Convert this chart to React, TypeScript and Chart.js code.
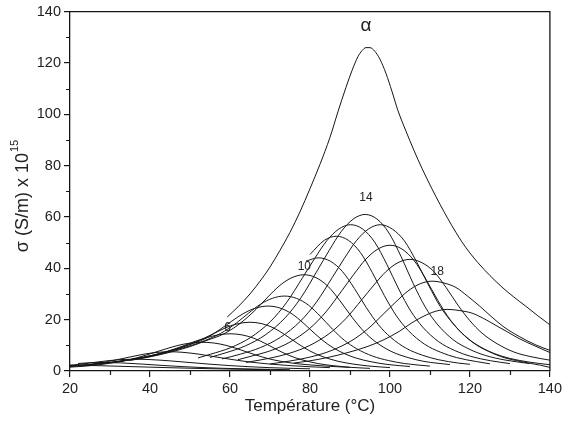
import React, { useEffect, useRef } from 'react';
import { Chart, registerables } from 'chart.js';

Chart.register(...registerables);

// ---- Data (Temperature °C, sigma x 1e15 S/m) ----
const curve1 = [[20,2.3],[25,2.15],[30,1.95],[35,1.72],[40,1.5],[45,1.28],[50,1.08],[55,0.9],[60,0.75],[65,0.62],[70,0.5]];
const curve2 = [[22,2.94],[25,3.2],[28,3.3],[33,3.14],[38,2.7],[43,2.18],[48,1.72],[53,1.35],[58,1.06],[63,0.86],[68,0.69],[75,0.5]];
const curve3 = [[20,2.16],[24,2.94],[27,3.54],[30,4.09],[33,4.46],[36,4.6],[40,4.45],[45,3.95],[50,3.3],[55,2.65],[60,2.1],[65,1.65],[70,1.3],[75,1.05],[80,0.85]];
const curve4 = [[20,1.73],[25,2.55],[29,3.53],[33,4.8],[36,5.78],[39,6.68],[42,7.28],[45,7.5],[48,7.3],[52,6.6],[56,5.6],[60,4.6],[65,3.5],[70,2.7],[75,2.1],[80,1.65],[85,1.3]];
const curve5 = [[20,1.51],[23,1.79],[28,2.58],[33,3.81],[37,5.26],[41,7.17],[44,8.62],[47,9.97],[50,10.86],[53,11.2],[56,10.9],[59,10.0],[62,8.6],[65,7.0],[68,5.5],[71,4.3],[75,3.2],[79,2.5],[84,1.9],[90,1.4]];
const curve6 = [[20,1.9],[25,2.5],[30,3.3],[35,4.4],[40,5.8],[44,7.5],[48,9.6],[51,11.4],[54,12.9],[57,14.07],[60,14.5],[63,14.07],[66,12.76],[69,10.59],[72,8.12],[75,5.95],[78,4.35],[82,2.9],[86,2.03],[90,1.45],[95,1.02]];
const curve7 = [[20,1.9],[25,2.5],[30,3.3],[35,4.4],[40,5.9],[45,7.8],[49,9.8],[53,12.4],[56,14.6],[59,16.9],[62,18.43],[65,19],[68,18.43],[71,16.72],[74,13.87],[77,10.64],[80,7.79],[83,5.7],[87,3.8],[91,2.66],[95,1.9],[100,1.33]];
const curve8 = [[25,2.45],[30,3.3],[35,4.4],[40,5.9],[45,7.9],[50,10.3],[53.5,12.4],[57.5,16.19],[60.5,19.48],[63.5,22.52],[66.5,24.54],[69.5,25.3],[72.5,24.54],[75.5,22.26],[78.5,18.47],[81.5,14.17],[84.5,10.37],[87.5,7.59],[91.5,5.06],[95.5,3.54],[99.5,2.53],[105,1.75]];
const curve9 = [[30,3.2],[35,4.3],[40,5.7],[45,7.6],[50,9.8],[53.6,11.8],[57.6,14.6],[61.6,18.69],[64.6,22.48],[67.6,25.99],[70.6,28.32],[73.6,29.2],[76.6,28.32],[79.6,25.7],[82.6,21.32],[85.6,16.35],[88.6,11.97],[91.6,8.76],[95.6,5.84],[99.6,4.09],[103.6,2.92],[110,1.9]];
const curve10 = [[35,4.1],[40,5.5],[45,7.3],[50,9.5],[54,11.8],[58.5,14.5],[62.5,18.5],[66.5,24.0],[69.5,28.88],[72.5,33.38],[75.5,36.38],[78.5,37.5],[81.5,36.38],[84.5,33.0],[87.5,27.38],[90.5,21.0],[93.5,15.38],[96.5,11.25],[100.5,7.5],[104.5,5.25],[108.5,3.75],[115,2.5]];
const curve11 = [[79,42.8],[82.1,44.1],[85.1,42.78],[88.1,38.81],[91.1,32.19],[94.1,24.7],[97.1,18.08],[100.1,13.23],[104.1,8.82],[108.1,6.17],[112.1,4.41],[117.1,3.09],[120,2.6]];
const curve12 = [[80,45.4],[83.6,50.93],[86.6,52.5],[89.6,50.93],[92.6,46.2],[95.6,38.33],[98.6,29.4],[101.6,21.53],[104.6,15.75],[108.6,10.5],[112.6,7.35],[116.6,5.25],[121.6,3.68],[125,2.8]];
const curve13 = [[52,5.1],[55.2,6.56],[60.2,9.12],[65.2,13.11],[70.2,19.38],[74.2,26.79],[78.2,36.48],[81.2,43.89],[84.2,50.73],[87.2,55.29],[90.2,57],[93.2,55.29],[96.2,50.16],[99.2,41.61],[102.2,31.92],[105.2,23.37],[108.2,17.1],[112.2,11.4],[116.2,7.98],[120.2,5.7],[125.2,3.99],[130,2.9]];
const curve14 = [[55,5.3],[58.8,7.02],[63.8,9.76],[68.8,14.03],[73.8,20.74],[77.8,28.67],[81.8,39.04],[84.8,46.97],[87.8,54.29],[90.8,59.17],[93.8,61],[96.8,59.17],[99.8,53.68],[102.8,44.53],[105.8,34.16],[108.8,25.01],[111.8,18.3],[115.8,12.2],[119.8,8.54],[123.8,6.1],[128.8,4.27],[135,2.9]];
const curve15 = [[58,4.7],[62.6,6.56],[67.6,9.12],[72.6,13.11],[77.6,19.38],[81.6,26.79],[85.6,36.48],[88.6,43.89],[91.6,50.73],[94.6,55.29],[97.6,57],[100.6,55.29],[103.6,50.73],[106.6,42.75],[109.6,33.63],[112.6,25.08],[115.6,18.81],[119.6,12.54],[123.6,8.55],[127.6,5.7],[132.6,3.7],[137.6,2.28],[140,1.4]];
const curve16 = [[62,4.4],[65,5.64],[70,7.84],[75,11.27],[80,16.66],[84,23.03],[88,31.36],[91,37.73],[94,43.61],[97,47.53],[100,49],[103,47.53],[106,43.12],[109,35.77],[112,27.44],[115,20.09],[118,14.7],[122,9.8],[126,6.86],[130,4.9],[135,3.43],[140,2.45]];
const curve17 = [[64,3.35],[70,5.0],[75,6.96],[80,10.0],[85,14.79],[89,20.45],[93,27.84],[96,33.5],[99,38.72],[102,42.2],[105,43.5],[108,42.2],[111,38.72],[114,32.63],[117,25.67],[120,19.58],[123,14.79],[127,10.44],[131,7.4],[135,5.66],[140,4.22]];
const curve18 = [[70,2.73],[75.5,4.03],[80.5,5.6],[85.5,8.05],[90.5,11.9],[94.5,16.45],[98.5,22.4],[101.5,26.95],[104.5,31.15],[107.5,33.95],[110.5,35],[113.5,34.3],[116.5,32.55],[119.5,29.05],[122.5,25.2],[125.5,21.0],[128.5,17.15],[132.5,13.3],[136.5,10.15],[140,8.05]];
const curve19 = [[76,3.1],[79.5,3.84],[84.5,5.28],[89.5,7.2],[94.5,9.6],[98.5,12.2],[102.5,15.6],[105.5,18.8],[108.5,21.4],[111.5,23.3],[114.5,24],[117.5,23.52],[120.5,22.56],[123.5,20.4],[126.5,17.76],[129.5,15.12],[132.5,12.48],[136.5,9.6],[140,7.2]];
const curveAlpha = [[59.3,21],[62,25],[65,30],[68,36],[70,40.5],[72.5,47],[75,54],[77.5,62],[80,71],[82.5,80.5],[85,91],[87,101],[89,110.5],[90.5,117],[92,122.5],[93,124.8],[94,126],[95,126],[96.2,124.6],[97.5,121.5],[99,116],[100.5,109],[102,101.5],[104,93.5],[106,86],[108,79],[110.5,71],[112.5,65],[114.5,59.3],[116.5,54],[118,50.3],[120,46],[122,42.2],[125,37.2],[128,32.7],[131,28.8],[134,25.2],[137,21.5],[140,18]];

const curves = [curve1, curve2, curve3, curve4, curve5, curve6, curve7, curve8, curve9, curve10,
  curve11, curve12, curve13, curve14, curve15, curve16, curve17, curve18, curve19, curveAlpha];

const xRange = [20, 140];
const yRange = [0, 140];
const majorStep = 20;
const minorStep = 10;

const curveLabels = [
  { text: 'α', x: 94, y: 134.5, big: true },
  { text: '14', x: 94, y: 67.5, big: false },
  { text: '10', x: 78.6, y: 40.8, big: false },
  { text: '6', x: 59.4, y: 17.0, big: false },
  { text: '18', x: 111.8, y: 38.8, big: false },
];

const xTitle = 'Température (°C)';
const yTitleMain = 'σ (S/m) x 10';
const yTitleSup = '15';

const FONT = '"Liberation Sans", Arial, "DejaVu Sans", sans-serif';
const INK = '#161616';
const TEXT = '#222222';

const decorPlugin = {
  id: 'decor',
  afterDraw(chart: any) {
    const { ctx, chartArea, scales } = chart;
    const xs = scales.x;
    const ys = scales.y;
    ctx.save();
    ctx.strokeStyle = INK;
    ctx.lineWidth = 1.3;
    ctx.beginPath();
    ctx.moveTo(chartArea.left, chartArea.top);
    ctx.lineTo(chartArea.right, chartArea.top);
    ctx.lineTo(chartArea.right, chartArea.bottom);
    ctx.stroke();
    ctx.lineWidth = 1.2;
    ctx.beginPath();
    for (let v = xRange[0] + minorStep; v < xRange[1]; v += majorStep) {
      const px = Math.round(xs.getPixelForValue(v)) + 0.5;
      ctx.moveTo(px, chartArea.bottom);
      ctx.lineTo(px, chartArea.bottom + 4);
    }
    for (let v = yRange[0] + minorStep; v < yRange[1]; v += majorStep) {
      const py = Math.round(ys.getPixelForValue(v)) + 0.5;
      ctx.moveTo(chartArea.left, py);
      ctx.lineTo(chartArea.left - 4, py);
    }
    ctx.stroke();

    ctx.fillStyle = TEXT;
    ctx.textAlign = 'center';
    ctx.textBaseline = 'middle';
    for (const l of curveLabels) {
      ctx.font = l.big ? `19px ${FONT}` : `12px ${FONT}`;
      ctx.fillText(l.text, xs.getPixelForValue(l.x), ys.getPixelForValue(l.y));
    }

    ctx.font = `17px ${FONT}`;
    ctx.fillText(xTitle, (chartArea.left + chartArea.right) / 2, 406);

    ctx.save();
    ctx.translate(28, 196);
    ctx.rotate(-Math.PI / 2);
    ctx.textBaseline = 'alphabetic';
    ctx.textAlign = 'left';
    ctx.font = `18px ${FONT}`;
    const mw = ctx.measureText(yTitleMain).width;
    ctx.font = `11px ${FONT}`;
    const sw = ctx.measureText(yTitleSup).width;
    const start = -(mw + sw + 1) / 2;
    ctx.font = `18px ${FONT}`;
    ctx.fillText(yTitleMain, start, 0);
    ctx.font = `11px ${FONT}`;
    ctx.fillText(yTitleSup, start + mw + 1, -10);
    ctx.restore();

    ctx.restore();
  },
};

export default function App() {
  const ref = useRef<HTMLCanvasElement | null>(null);
  useEffect(() => {
    if (!ref.current) return;
    const datasets = curves.map((c) => ({
      data: c.map(([x, y]) => ({ x, y })),
      borderColor: INK,
      borderWidth: 1,
      pointRadius: 0,
      fill: false,
      cubicInterpolationMode: 'monotone' as const,
    }));
    const chart = new Chart(ref.current, {
      type: 'line',
      data: { datasets },
      options: {
        responsive: false,
        animation: false,
        events: [],
        layout: { padding: { left: 0, right: 14, top: 7, bottom: 0 } },
        plugins: { legend: { display: false }, tooltip: { enabled: false } },
        scales: {
          x: {
            type: 'linear',
            min: xRange[0],
            max: xRange[1],
            ticks: { stepSize: majorStep, color: TEXT, font: { family: FONT, size: 14.5 }, padding: 3, maxRotation: 0, autoSkip: false },
            grid: { display: true, drawOnChartArea: false, tickLength: 6, color: INK, lineWidth: 1.2 },
            border: { display: true, color: INK, width: 1.3 },
            afterFit: (s: any) => { s.height = 58; },
          },
          y: {
            type: 'linear',
            min: yRange[0],
            max: yRange[1],
            ticks: { stepSize: majorStep, color: TEXT, font: { family: FONT, size: 14.5 }, padding: 3, autoSkip: false },
            grid: { display: true, drawOnChartArea: false, tickLength: 6, color: INK, lineWidth: 1.2 },
            border: { display: true, color: INK, width: 1.3 },
            afterFit: (s: any) => { s.width = 70; },
          },
        },
      },
      plugins: [decorPlugin],
    });
    return () => chart.destroy();
  }, []);
  return (
    <div style={{ position: 'absolute', left: 0, top: 0, width: 565, height: 429, background: '#fff' }}>
      <canvas ref={ref} width={565} height={429} style={{ width: 565, height: 429, display: 'block' }} />
    </div>
  );
}
